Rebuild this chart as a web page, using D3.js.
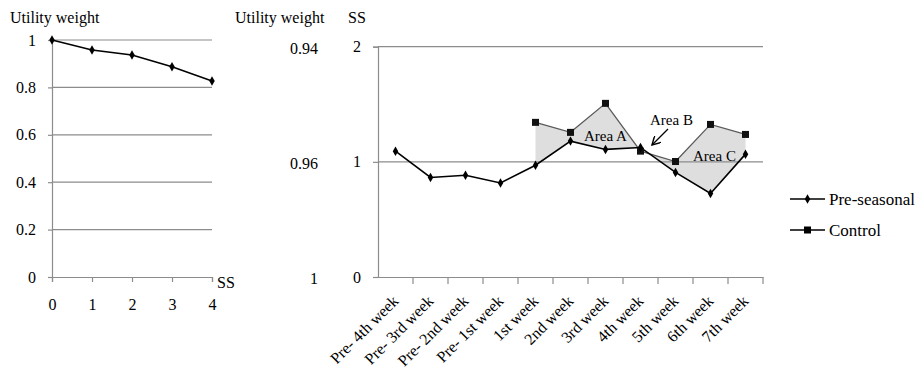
<!DOCTYPE html>
<html>
<head>
<meta charset="utf-8">
<script src="https://cdn.jsdelivr.net/npm/d3@7.9.0/dist/d3.min.js"></script>
<style>
  body { margin: 0; background: #fff; }
  text { font-family: "Liberation Serif", "Times New Roman", serif; fill: #000; }
</style>
</head>
<body>
<svg width="916" height="374"></svg>
<script>
// left panel: utility weight by SS
const ssValues = [0, 1, 2, 3, 4];
const utilityWeights = [1, 0.958, 0.937, 0.887, 0.827];
const leftTicks = [0, 0.2, 0.4, 0.6, 0.8, 1];

// right panel: SS by week
const weeks = ['Pre- 4th week', 'Pre- 3rd week', 'Pre- 2nd week', 'Pre- 1st week',
  '1st week', '2nd week', '3rd week', '4th week', '5th week', '6th week', '7th week'];
const preSeasonal = [1.093, 0.864, 0.884, 0.817, 0.971, 1.18, 1.108, 1.125, 0.908, 0.725, 1.067];
const control = [null, null, null, null, 1.343, 1.256, 1.508, 1.093, 1.003, 1.325, 1.238];
const rightTicks = [0, 1, 2];
const midLabels = ['1', '0.96', '0.94'];

const svg = d3.select('svg');
const gridColor = '#8c8c8c';
const serif = '"Liberation Serif", "Times New Roman", serif';

function styleAxis(g) {
  g.attr('font-family', serif).attr('font-size', 16);
  g.selectAll('path, line').attr('stroke', gridColor).attr('stroke-width', 1.2);
  g.selectAll('text').attr('fill', '#000');
}

// ---- left chart
let lx = d3.scaleLinear().domain([0, 4]).range([52, 212]);
let ly = d3.scaleLinear().domain([0, 1]).range([277, 40]);

svg.append('g').selectAll('line').data(leftTicks.filter(d => d > 0)).join('line')
  .attr('x1', 52).attr('x2', 212)
  .attr('y1', d => ly(d)).attr('y2', d => ly(d))
  .attr('stroke', gridColor).attr('stroke-width', 1.2);

svg.append('g').attr('transform', 'translate(52,0)')
  .call(d3.axisLeft(ly).tickValues(leftTicks).tickFormat(d => d).tickSize(4).tickPadding(12))
  .call(styleAxis);
svg.append('g').attr('transform', 'translate(0,277)')
  .call(d3.axisBottom(lx).tickValues(ssValues).tickFormat(d3.format('d')).tickSize(5).tickPadding(17))
  .call(styleAxis);

svg.append('path')
  .datum(ssValues.map((s, i) => [s, utilityWeights[i]]))
  .attr('fill', 'none').attr('stroke', '#000').attr('stroke-width', 1.6)
  .attr('d', d3.line().x(d => lx(d[0])).y(d => ly(d[1])));
svg.append('g').selectAll('path').data(ssValues).join('path')
  .attr('d', d3.symbol(d3.symbolDiamond, 26))
  .attr('transform', (d, i) => `translate(${lx(d)},${ly(utilityWeights[i])})`);

svg.append('text').attr('x', 10).attr('y', 23).style('font-size', '16px').text('Utility weight');
svg.append('text').attr('x', 217).attr('y', 288).style('font-size', '16px').text('SS');

// ---- right chart
let rx = d3.scaleBand().domain(weeks).range([378, 763]).padding(0);
let ry = d3.scaleLinear().domain([0, 2]).range([277, 46.7]);
let cx = d => rx(d) + rx.bandwidth() / 2;

// shaded area between the two series
let both = weeks.map((w, i) => ({ w, p: preSeasonal[i], c: control[i] })).filter(d => d.c != null);
svg.append('path').datum(both)
  .attr('fill', '#dedede')
  .attr('d', d3.area().x(d => cx(d.w)).y0(d => ry(d.p)).y1(d => ry(d.c)));

svg.append('g').selectAll('line').data(rightTicks.filter(d => d > 0)).join('line')
  .attr('x1', 378).attr('x2', 763)
  .attr('y1', d => ry(d)).attr('y2', d => ry(d))
  .attr('stroke', gridColor).attr('stroke-width', 1.2);

svg.append('g').attr('transform', 'translate(378,0)')
  .call(d3.axisLeft(ry).tickValues(rightTicks).tickFormat(d => d).tickSize(5).tickPadding(12))
  .call(styleAxis);
let rightX = svg.append('g').attr('transform', 'translate(0,277)')
  .call(d3.axisBottom(rx).tickSize(0).tickFormat(''));
rightX.selectAll('.tick').remove();
rightX.append('g').selectAll('line').data(weeks).join('line')
  .attr('x1', d => rx(d) + rx.bandwidth()).attr('x2', d => rx(d) + rx.bandwidth())
  .attr('y1', 0).attr('y2', 7);
rightX.call(styleAxis);
rightX.append('g').selectAll('text').data(weeks).join('text')
  .attr('text-anchor', 'end')
  .attr('transform', d => `translate(${cx(d) + 4},${25}) rotate(-45)`)
  .attr('font-size', 16)
  .attr('fill', '#000')
  .text(d => d);

// middle utility weight labels aligned with SS ticks
svg.append('g').selectAll('text').data(rightTicks).join('text')
  .attr('x', 318).attr('y', d => ry(d) + 7)
  .attr('text-anchor', 'end').style('font-size', '16px')
  .text((d, i) => midLabels[i]);
svg.append('text').attr('x', 235).attr('y', 23).style('font-size', '16px').text('Utility weight');
svg.append('text').attr('x', 348).attr('y', 23).style('font-size', '16px').text('SS');

// lines
let line = d3.line().defined(d => d.v != null).x(d => cx(d.w)).y(d => ry(d.v));
let ctrl = weeks.map((w, i) => ({ w, v: control[i] }));
let pre = weeks.map((w, i) => ({ w, v: preSeasonal[i] }));
svg.append('path').datum(ctrl).attr('fill', 'none').attr('stroke', '#5a5a5a').attr('stroke-width', 1.3).attr('d', line);
svg.append('path').datum(pre).attr('fill', 'none').attr('stroke', '#000').attr('stroke-width', 1.6).attr('d', line);
svg.append('g').selectAll('rect').data(ctrl.filter(d => d.v != null)).join('rect')
  .attr('x', d => cx(d.w) - 3.5).attr('y', d => ry(d.v) - 3.5)
  .attr('width', 7).attr('height', 7).attr('fill', '#111');
svg.append('g').selectAll('path').data(pre).join('path')
  .attr('d', d3.symbol(d3.symbolDiamond, 26))
  .attr('transform', d => `translate(${cx(d.w)},${ry(d.v)})`);

// annotations
svg.append('text').attr('x', 584).attr('y', 141).style('font-size', '15px').text('Area A');
svg.append('text').attr('x', 650).attr('y', 125).style('font-size', '15px').text('Area B');
svg.append('text').attr('x', 693).attr('y', 161).style('font-size', '15px').text('Area C');
svg.append('defs').append('marker').attr('id', 'arr')
  .attr('viewBox', '0 0 10 10').attr('refX', 9).attr('refY', 5)
  .attr('markerWidth', 8).attr('markerHeight', 8).attr('orient', 'auto')
  .append('path').attr('d', 'M0,0 L9,5 L0,10').attr('fill', 'none').attr('stroke', '#000').attr('stroke-width', 1.5);
svg.append('line').attr('x1', 668).attr('y1', 129).attr('x2', 652).attr('y2', 145)
  .attr('stroke', '#000').attr('stroke-width', 1.2).attr('marker-end', 'url(#arr)');

// legend
const legendItems = [{ label: 'Pre-seasonal', shape: 'diamond' }, { label: 'Control', shape: 'square' }];
let lg = svg.append('g').selectAll('g').data(legendItems).join('g')
  .attr('transform', (d, i) => `translate(790,${199 + i * 31})`);
lg.append('line').attr('x1', 0).attr('x2', 35).attr('stroke', '#000').attr('stroke-width', 1.5);
lg.filter(d => d.shape === 'diamond').append('path').attr('d', d3.symbol(d3.symbolDiamond, 26)).attr('transform', 'translate(17.5,0)');
lg.filter(d => d.shape === 'square').append('rect').attr('x', 14).attr('y', -3.5).attr('width', 7).attr('height', 7);
lg.append('text').attr('x', 39).attr('y', 5.5).style('font-size', '17px').text(d => d.label);
</script>
</body>
</html>
